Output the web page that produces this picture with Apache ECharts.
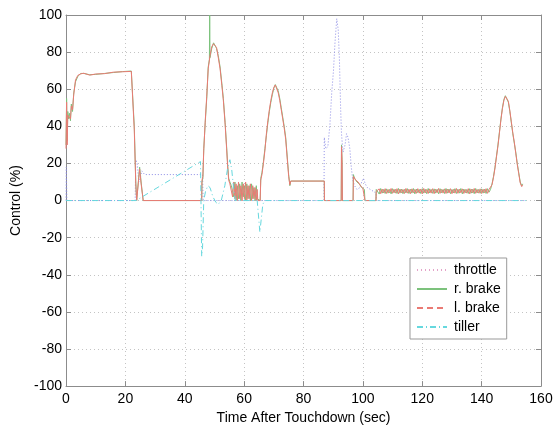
<!DOCTYPE html>
<html><head><meta charset="utf-8">
<script src="https://cdn.jsdelivr.net/npm/echarts@6/dist/echarts.min.js"></script>
<style>html,body{margin:0;padding:0;background:#fff}#c{width:556px;height:430px}</style>
</head><body><div id="c"></div>
<script>
const xTicks = [0,20,40,60,80,100,120,140,160];
const yTicks = [-100,-80,-60,-40,-20,0,20,40,60,80,100];
const seriesNames = ['throttle','r. brake','l. brake','tiller'];

const throttle = [[0,0],[0.1,18],[0.3,0],[23.3,0],[23.5,22],[24,20],[24.5,10],[25,12],[25.5,16],[26.5,14],[35,14],[46,14],[46.2,0],[86.9,0],[87,34],[87.5,28],[88.2,29],[88.9,41],[89.5,58],[90.1,70],[90.6,85],[91.2,98],[91.7,92],[92.1,76],[92.5,50],[92.8,36],[93.3,26],[94,30],[94.5,36],[95,34],[95.6,28],[96.1,18],[96.6,11],[97.2,8],[98,6],[99,7],[99.6,10],[100.2,12],[100.8,9],[101.5,7],[102.5,6],[103.5,5],[104.4,4],[104.6,0],[155,0]];

const rBrake = [[0,30],[0.2,55],[0.4,32],[0.6,48],[0.9,44],[1.2,47],[1.5,43],[1.8,52],[2.2,48],[2.6,58],[3.2,64],[4,67],[5,68.5],[6,68.5],[8,67.8],[10,68],[13,68.5],[16,69],[19,69.5],[22,69.8],[22.5,69.5],[23,40],[23.5,10],[23.8,0],[24.2,0],[24.8,18],[25.3,10],[26,0],[45.7,0],[45.8,10],[46.1,12],[46.4,28],[46.9,42],[47.4,55],[47.9,72],[48.3,76],[48.4,100],[48.5,77],[49.1,82],[49.7,85],[50.2,84.5],[50.7,82],[51.3,78],[51.9,72],[52.5,63],[53,55],[53.6,42],[54.1,29],[54.5,18],[54.8,12],[55.2,10],[55.7,8],[56.1,9],[56.5,2],[56.9,10],[57.3,0],[57.7,8],[58.1,1],[58.5,9],[58.9,0],[59.3,10],[59.7,2],[60.1,8],[60.5,0],[60.9,9],[61.3,1],[61.7,8],[62.1,0],[62.5,9],[62.9,1],[63.3,7],[63.7,0],[64.1,8],[64.4,1],[64.6,0],[65.4,0],[65.6,12],[66,15],[66.5,21],[67,28],[67.5,35],[68,42],[68.5,48],[69,53],[69.5,57],[70,60.5],[70.5,62.5],[71,62],[71.5,59],[72,55],[72.5,50],[73,45],[73.5,40],[74,34],[74.5,24],[75,14],[75.4,8],[75.7,10.5],[87,10.5],[87.05,0],[92.7,0],[92.8,30],[93,22],[93.1,0],[96.7,0],[96.8,14],[97.2,12],[97.6,13],[98,10],[98.4,11],[98.8,9],[99.2,9.5],[99.6,7],[100,7.5],[100.5,6],[100.7,0],[104.4,0],[104.5,6],
[105,6],[105.5,3.5],[106,6.5],[106.5,4],[107,6],[107.5,3.8],[108,6.3],[108.5,4],[109,6],[109.5,3.6],[110,6.4],[110.5,4.2],[111,6],[111.5,3.8],[112,6.5],[112.5,4],[113,6.2],[113.5,3.7],[114,6],[114.5,4.1],[115,6.4],[115.5,3.8],[116,6.1],[116.5,4],[117,6.5],[117.5,3.6],[118,6.2],[118.5,4.2],[119,6],[119.5,3.8],[120,6.4],[120.5,4],[121,6.1],[121.5,3.7],[122,6.5],[122.5,4.1],[123,6],[123.5,3.9],[124,6.3],[124.5,4],[125,6.1],[125.5,3.6],[126,6.4],[126.5,4.2],[127,6],[127.5,3.8],[128,6.5],[128.5,4],[129,6.2],[129.5,3.7],[130,6],[130.5,4.1],[131,6.4],[131.5,3.8],[132,6.1],[132.5,4],[133,6.5],[133.5,3.6],[134,6.2],[134.5,4.2],[135,6],[135.5,3.8],[136,6.4],[136.5,4],[137,6.1],[137.5,3.7],[138,6.5],[138.5,4.1],[139,6],[139.5,3.9],[140,6.3],[140.5,4],[141,6.1],[141.5,3.8],[142,6.4],[142.5,4.5],
[143,6],[143.5,9],[144,13],[144.5,18],[145,24],[145.5,30],[146,37],[146.5,44],[147,50],[147.5,54.5],[148,56.5],[148.5,56],[149,53],[149.5,48],[150,42],[150.5,36],[151,31],[151.5,26],[152,20],[152.5,15],[153,10],[153.5,8],[153.8,9],[154,8]];

const lBrake = [[0,28],[0.2,53],[0.4,30],[0.6,46],[0.9,45],[1.2,46],[1.5,44],[1.8,51],[2.2,49],[2.6,57],[3.2,65],[4,67.5],[5,68.3],[6,68.6],[8,67.6],[10,68.2],[13,68.4],[16,69.2],[19,69.4],[22,69.6],[22.5,69.3],[23,38],[23.5,9],[23.8,0],[24.2,1],[24.8,17],[25.3,9],[26,0],[45.7,0],[45.8,11],[46.1,13],[46.4,27],[46.9,43],[47.4,56],[47.9,71],[48.5,78],[49.1,83],[49.7,84.5],[50.2,84],[50.7,82.5],[51.3,77],[51.9,71],[52.5,62],[53,54],[53.6,41],[54.1,28],[54.5,17],[54.8,11],[55.2,9],[55.7,9],[56.1,2],[56.5,10],[56.9,1],[57.3,9],[57.7,0],[58.1,10],[58.5,1],[58.9,8],[59.3,0],[59.7,9],[60.1,1],[60.5,10],[60.9,0],[61.3,8],[61.7,1],[62.1,9],[62.5,0],[62.9,8],[63.3,1],[63.7,7],[64.1,0],[64.4,6],[64.6,0],[65.4,0],[65.6,11],[66,14],[66.5,20],[67,27],[67.5,36],[68,43],[68.5,49],[69,54],[69.5,58],[70,61],[70.5,62.3],[71,61.5],[71.5,58],[72,54],[72.5,49],[73,44],[73.5,39],[74,33],[74.5,23],[75,13],[75.4,8.5],[75.7,10.5],[87,10.5],[87.05,0],[92.7,0],[92.8,29],[93,20],[93.1,0],[96.7,0],[96.8,13],[97.2,13],[97.6,11],[98,11],[98.4,10],[98.8,10],[99.2,8],[99.6,8],[100,6.5],[100.5,6.5],[100.7,0],[104.4,0],[104.5,5],
[105,4],[105.5,6.3],[106,3.7],[106.5,6.2],[107,4.1],[107.5,6.4],[108,3.8],[108.5,6],[109,4.2],[109.5,6.5],[110,3.9],[110.5,6.1],[111,4],[111.5,6.4],[112,3.6],[112.5,6.2],[113,4.1],[113.5,6],[114,3.8],[114.5,6.5],[115,4],[115.5,6.1],[116,3.7],[116.5,6.3],[117,4.2],[117.5,6],[118,3.9],[118.5,6.4],[119,4],[119.5,6.2],[120,3.6],[120.5,6.5],[121,4.1],[121.5,6],[122,3.8],[122.5,6.3],[123,4],[123.5,6.4],[124,3.7],[124.5,6.1],[125,4.2],[125.5,6.5],[126,3.9],[126.5,6],[127,4],[127.5,6.3],[128,3.8],[128.5,6.2],[129,4.1],[129.5,6.4],[130,3.7],[130.5,6],[131,4],[131.5,6.5],[132,3.9],[132.5,6.1],[133,4.2],[133.5,6.3],[134,3.8],[134.5,6],[135,4],[135.5,6.4],[136,3.6],[136.5,6.2],[137,4.1],[137.5,6.5],[138,3.9],[138.5,6],[139,4],[139.5,6.3],[140,3.8],[140.5,6.1],[141,4.2],[141.5,6.4],[142,3.9],[142.5,6],
[143,6.5],[143.5,8.5],[144,12.5],[144.5,17.5],[145,23.5],[145.5,29.5],[146,36.5],[146.5,43.5],[147,49.5],[147.5,54],[148,56.2],[148.5,56.2],[149,53.5],[149.5,48.5],[150,42.5],[150.5,36.5],[151,31.5],[151.5,25.5],[152,19.5],[152.5,14.5],[153,9.5],[153.5,7.5],[153.8,8.5],[154,7.5]];

const tiller = [[0,0],[23.6,0],[45.3,21],[45.5,21],[45.7,-30],[46,-25],[46.4,0],[47,5],[47.8,8],[48.5,7],[49.5,2],[50.5,-1],[51.3,-2],[52.3,0],[53.5,8],[54.5,18],[55.2,22],[55.8,17],[56.5,6],[57,0],[64.4,0],[65.3,-17],[66.3,-2],[67,0],[155,0]];

const colors = ['#8c8ce6','#7cc27c','#ea7a74','#66d8de'];
const chart = echarts.init(document.getElementById('c'), null, {renderer:'canvas'});
const font = 'Liberation Sans, Arial, Helvetica, sans-serif';
const axisCommon = {
  axisLine:{show:true, onZero:false, lineStyle:{color:'#8c8c8c', width:1}},
  axisTick:{show:true, inside:true, length:5, lineStyle:{color:'#8c8c8c'}},
};
chart.setOption({
  animation:false,
  backgroundColor:'#fff',
  grid:{left:66, right:15, top:15, bottom:37, show:false},
  legend:{
    show:true, left:410, top:258, orient:'vertical',
    padding:[5,6,5,6], itemGap:5, itemWidth:30, itemHeight:14,
    backgroundColor:'#fff', borderColor:'#999', borderWidth:1, borderRadius:0,
    itemStyle:{opacity:0},
    textStyle:{fontFamily:font, fontSize:14, color:'#000', padding:[0,0,0,2]},
    data:[
      {name:'throttle', lineStyle:{type:[1,3], color:'#e3a3c8'}},
      {name:'r. brake'},
      {name:'l. brake', lineStyle:{type:[6,4]}},
      {name:'tiller'}
    ]
  },
  xAxis:[
    Object.assign({type:'value', min:0, max:160, interval:20, position:'bottom',
      name:'Time After Touchdown (sec)', nameLocation:'middle', nameGap:21,
      nameTextStyle:{fontFamily:font, fontSize:14, color:'#000'},
      axisLabel:{fontFamily:font, fontSize:14, color:'#000', margin:6},
      splitLine:{show:true, lineStyle:{color:'#c4c4c4', type:[1,3], width:1}}}, axisCommon),
    Object.assign({type:'value', min:0, max:160, interval:20, position:'top',
      axisLabel:{show:false}, splitLine:{show:false}}, axisCommon)
  ],
  yAxis:[
    Object.assign({type:'value', min:-100, max:100, interval:20, position:'left',
      name:'Control (%)', nameLocation:'middle', nameGap:43,
      nameTextStyle:{fontFamily:font, fontSize:14, color:'#000'},
      axisLabel:{fontFamily:font, fontSize:14, color:'#000', margin:4},
      splitLine:{show:true, lineStyle:{color:'#c4c4c4', type:[1,3], width:1}}}, axisCommon),
    Object.assign({type:'value', min:-100, max:100, interval:20, position:'right',
      axisLabel:{show:false}, splitLine:{show:false}}, axisCommon)
  ],
  series:[
    {name:seriesNames[0], type:'line', data:throttle, showSymbol:false, symbol:'none', color:colors[0],
      lineStyle:{color:colors[0], width:1, type:[1,2]}},
    {name:seriesNames[1], type:'line', data:rBrake, showSymbol:false, symbol:'none', color:colors[1],
      lineStyle:{color:colors[1], width:1}},
    {name:seriesNames[2], type:'line', data:lBrake, showSymbol:false, symbol:'none', color:colors[2],
      lineStyle:{color:colors[2], width:1}},
    {name:seriesNames[3], type:'line', data:tiller, showSymbol:false, symbol:'none', color:colors[3],
      lineStyle:{color:colors[3], width:1, type:[6,3,1,3]}}
  ]
});
</script></body></html>
